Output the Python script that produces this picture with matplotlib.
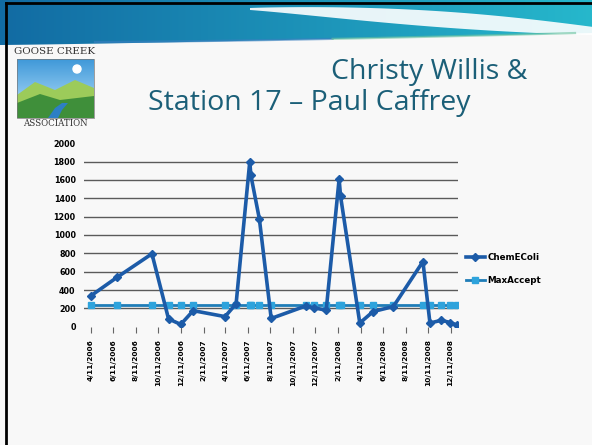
import numpy as np
import pandas as pd
import matplotlib
matplotlib.use("Agg")
import matplotlib.pyplot as plt
from matplotlib.patches import Polygon, Rectangle, Circle

# sampling dates and E. coli readings
dates = pd.to_datetime([
    "2006-04-11", "2006-06-22", "2006-09-24", "2006-11-08", "2006-12-11",
    "2007-01-14", "2007-04-10", "2007-05-10", "2007-06-16", "2007-06-19",
    "2007-07-12", "2007-08-13", "2007-11-14", "2007-12-08", "2008-01-09",
    "2008-02-13", "2008-02-17", "2008-04-09", "2008-05-15", "2008-07-09",
    "2008-09-27", "2008-10-16", "2008-11-16", "2008-12-10", "2008-12-27"])
chem_ecoli = [335, 540, 795, 85, 25,
              175, 110, 250, 1800, 1650,
              1175, 90, 225, 205, 180,
              1610, 1420, 40, 165, 220,
              710, 40, 70, 45, 20]
max_accept = [235] * len(dates)

tick_dates = pd.to_datetime([
    "2006-04-11", "2006-06-11", "2006-08-11", "2006-10-11", "2006-12-11",
    "2007-02-11", "2007-04-11", "2007-06-11", "2007-08-11", "2007-10-11",
    "2007-12-11", "2008-02-11", "2008-04-11", "2008-06-11", "2008-08-11",
    "2008-10-11", "2008-12-11"])
tick_labels = ["4/11/2006", "6/11/2006", "8/11/2006", "10/11/2006", "12/11/2006",
               "2/11/2007", "4/11/2007", "6/11/2007", "8/11/2007", "10/11/2007",
               "12/11/2007", "2/11/2008", "4/11/2008", "6/11/2008", "8/11/2008",
               "10/11/2008", "12/11/2008"]
y_ticks = [0, 200, 400, 600, 800, 1000, 1200, 1400, 1600, 1800, 2000]

W, H = 592, 445
fig = plt.figure(figsize=(W / 100, H / 100), dpi=100)
fig.patch.set_facecolor("#f8f8f8")

# slide decoration, in pixel coordinates
bg = fig.add_axes([0, 0, 1, 1], zorder=0)
bg.set_xlim(0, W)
bg.set_ylim(H, 0)
bg.axis("off")

xs = np.linspace(0, W, 200)
band_bottom = 45 - 12 * (xs / W) ** 1.2
band = Polygon(np.vstack([np.column_stack([xs, band_bottom]), [[W, 0], [0, 0]]]),
               closed=True, facecolor="none", edgecolor="none")
bg.add_patch(band)
grad = np.linspace(0, 1, 256)
c1 = np.array([0.07, 0.42, 0.64])
c2 = np.array([0.15, 0.72, 0.80])
img = (c1[None, :] * (1 - grad[:, None]) + c2[None, :] * grad[:, None])[None, :, :]
im = bg.imshow(img, extent=[0, W, 60, 0], aspect="auto", zorder=1)
im.set_clip_path(band)

# white swoosh
t = np.linspace(0, 1, 100)
sx = 250 + (W - 250) * t
sc = 9 + 22 * t ** 1.3
hw = 7 * np.sin(np.pi * np.clip(t, 0, 1) * 0.85) + 1
swoosh = np.vstack([np.column_stack([sx, sc - hw]), np.column_stack([sx[::-1], (sc + hw)[::-1]])])
bg.add_patch(Polygon(swoosh, closed=True, facecolor="white", edgecolor="none", alpha=0.9, zorder=2))

# thin dotted wave under the band
wx = np.linspace(95, 575, 100)
wy = 42 - 9 * ((wx - 95) / 480) ** 1.5
bg.plot(wx[:50], wy[:50], color="#3b7fc0", lw=1.6, alpha=0.6, zorder=2)
bg.plot(wx[49:], wy[49:], color="#6cc3a0", lw=1.6, alpha=0.6, zorder=2)

# frame
bg.plot([6, 6], [3, H], color="black", lw=2, zorder=3)
bg.plot([6, W], [3, 3], color="black", lw=2, zorder=3)

# logo
bg.text(55, 52, "GOOSE CREEK", ha="center", va="center", fontsize=7.4,
        family="DejaVu Serif", color="#333333", zorder=3)
bg.text(55, 124, "ASSOCIATION", ha="center", va="center", fontsize=6.2,
        family="DejaVu Serif", color="#333333", zorder=3)
sky = np.linspace(0, 1, 64)[:, None, None] * np.array([0.75, 0.9, 1.0]) + \
    (1 - np.linspace(0, 1, 64))[:, None, None] * np.array([0.25, 0.6, 0.85])
sky = np.repeat(sky, 2, axis=1)
bg.imshow(sky, extent=[17, 94, 118, 59], aspect="auto", zorder=3)
bg.add_patch(Circle((77, 69), 4, color="white", zorder=4))
bg.add_patch(Polygon([[17, 95], [35, 82], [55, 90], [75, 80], [94, 88], [94, 118], [17, 118]],
                     facecolor="#9ccb5a", edgecolor="none", zorder=4))
bg.add_patch(Polygon([[17, 103], [40, 94], [60, 100], [94, 96], [94, 118], [17, 118]],
                     facecolor="#3f8f3a", edgecolor="none", zorder=4))
bg.add_patch(Polygon([[48, 118], [55, 108], [62, 103], [68, 103], [62, 110], [58, 118]],
                     facecolor="#2d7fc4", edgecolor="none", zorder=5))
bg.add_patch(Rectangle((17, 59), 77, 59, fill=False, edgecolor="#777777", lw=0.5, zorder=5))

# title
bg.text(527, 72, "Christy Willis &", ha="right", va="center", fontsize=20.5,
        family="Open Sans", color="#1b5f78", zorder=3)
bg.text(148, 103, "Station 17 \u2013 Paul Caffrey", ha="left", va="center", fontsize=20.5,
        family="Open Sans", color="#1b5f78", zorder=3)

# chart
ax = fig.add_axes([84 / W, (H - 326.7) / H, (458 - 84) / W, (326.7 - 143.3) / H], zorder=1)
ax.patch.set_alpha(0)
ax.plot(dates, max_accept, color="#1f7db8", lw=2.0, marker="s", markersize=4.5,
        markerfacecolor="#2ea3dc", markeredgecolor="#2ea3dc", label="MaxAccept", zorder=3)
ax.plot(dates, chem_ecoli, color="#1c5ba8", lw=2.6, marker="D", markersize=3.8,
        markerfacecolor="#1c5ba8", markeredgecolor="#1c5ba8", label="ChemEColi", zorder=4)

ax.set_ylim(0, 2000)
ax.set_xlim(pd.Timestamp("2006-03-24"), pd.Timestamp("2008-12-31"))
ax.set_yticks(y_ticks)
ax.set_yticklabels([str(v) for v in y_ticks], fontsize=5.8, fontweight="bold")
for v in y_ticks[1:-1]:
    ax.axhline(v, color="#5a5a5a", lw=1.0, zorder=1)
ax.set_xticks(tick_dates)
ax.set_xticklabels(tick_labels, rotation=90, fontsize=5.3, fontweight="bold")
ax.tick_params(axis="y", length=0, pad=6)
ax.tick_params(axis="x", length=4, width=0.8, color="#666666", pad=5)
for s in ax.spines.values():
    s.set_visible(False)

handles, labels = ax.get_legend_handles_labels()
leg = ax.legend(handles[::-1], labels[::-1], loc="center left", bbox_to_anchor=(462 / W, (H - 269) / H),
                bbox_transform=fig.transFigure, frameon=False, fontsize=6.3, handlelength=2.2,
                handletextpad=0.3, labelspacing=1.5, borderaxespad=0)
for txt in leg.get_texts():
    txt.set_fontweight("bold")

fig.savefig("out.png", dpi=100, facecolor=fig.get_facecolor())
